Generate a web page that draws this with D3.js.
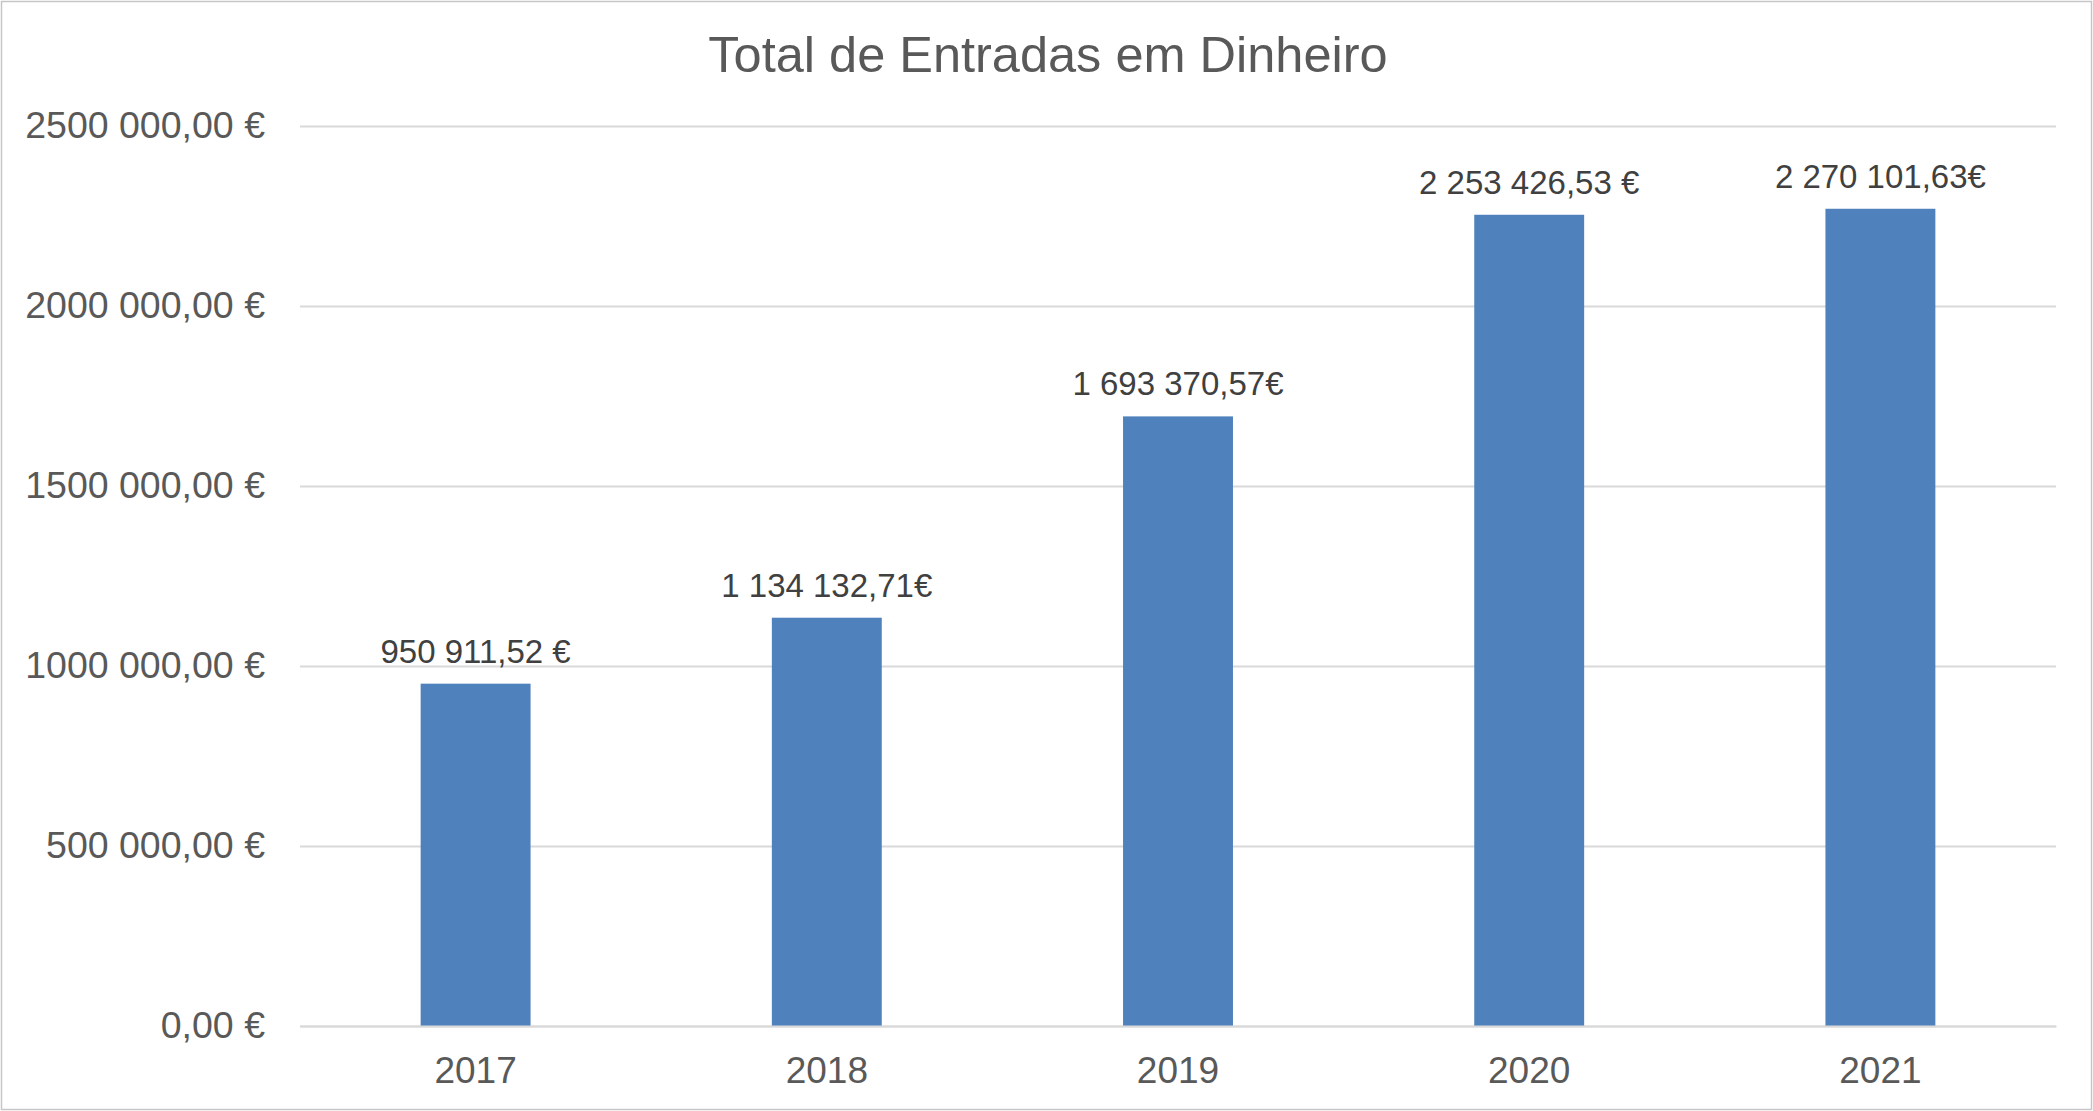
<!DOCTYPE html>
<html>
<head>
<meta charset="utf-8">
<script src="https://cdn.jsdelivr.net/npm/d3@7"></script>
<style>
  body { margin: 0; background: #fff; }
  text { font-family: "Liberation Sans", Arial, sans-serif; }
</style>
</head>
<body>
<script>
const w = 2093;
const h = 1111;

// data
const years = ["2017", "2018", "2019", "2020", "2021"];
const totals = [950911.52, 1134132.71, 1693370.57, 2253426.53, 2270101.63];
const valueLabels = ["950 911,52 €", "1 134 132,71€", "1 693 370,57€", "2 253 426,53 €", "2 270 101,63€"];
const tickValues = [0, 500000, 1000000, 1500000, 2000000, 2500000];
const tickLabels = ["0,00 €", "500 000,00 €", "1000 000,00 €", "1500 000,00 €", "2000 000,00 €", "2500 000,00 €"];

const plotLeft = 300, plotRight = 2056, plotTop = 126, plotBottom = 1026;

const svg = d3.select("body")
  .append("svg")
  .attr("width", w)
  .attr("height", h);

// chart frame
svg.append("rect")
  .attr("x", 1.5).attr("y", 1.5)
  .attr("width", w - 3).attr("height", h - 3)
  .attr("fill", "#fff")
  .attr("stroke", "#c6c6c6")
  .attr("stroke-width", 1.5);

const x = d3.scaleBand()
  .domain(years)
  .range([plotLeft, plotRight])
  .paddingInner(0.687)
  .paddingOuter(0.3435);

const y = d3.scaleLinear()
  .domain([0, 2500000])
  .range([plotBottom, plotTop]);

//gridlines + y labels
const yAxis = svg.append("g")
  .attr("transform", `translate(${plotLeft},0)`)
  .call(d3.axisLeft(y)
    .tickValues(tickValues)
    .tickSize(-(plotRight - plotLeft))
    .tickPadding(35)
    .tickFormat((d, i) => tickLabels[i]));

yAxis.select(".domain").remove();
yAxis.selectAll(".tick line")
  .attr("stroke", "#d9d9d9")
  .attr("stroke-width", 2);
yAxis.selectAll(".tick text")
  .attr("font-size", "37.5px")
  .attr("fill", "#595959")
  .attr("dy", "0.3em");

//bars
svg.selectAll("rect.bar")
  .data(totals)
  .enter()
  .append("rect")
  .attr("class", "bar")
  .attr("x", (d, i) => x(years[i]))
  .attr("y", d => y(d))
  .attr("width", x.bandwidth())
  .attr("height", d => y(0) - y(d))
  .attr("fill", "#4f81bd");

//value labels
svg.selectAll("text.val")
  .data(totals)
  .enter()
  .append("text")
  .attr("class", "val")
  .attr("x", (d, i) => x(years[i]) + x.bandwidth() / 2)
  .attr("y", d => y(d) - 21)
  .attr("text-anchor", "middle")
  .attr("font-size", "33px")
  .attr("fill", "#404040")
  .text((d, i) => valueLabels[i]);

//x axis
const xAxis = svg.append("g")
  .attr("transform", `translate(0,${plotBottom})`)
  .call(d3.axisBottom(x).tickSize(0).tickPadding(31));

xAxis.select(".domain")
  .attr("stroke", "#d9d9d9")
  .attr("stroke-width", 2);
xAxis.selectAll(".tick text")
  .attr("font-size", "37px")
  .attr("fill", "#595959")
  .attr("dy", "0.71em");

//title
svg.append("text")
  .attr("x", 1048)
  .attr("y", 72)
  .attr("text-anchor", "middle")
  .attr("font-size", "50.5px")
  .attr("fill", "#595959")
  .text("Total de Entradas em Dinheiro");
</script>
</body>
</html>
